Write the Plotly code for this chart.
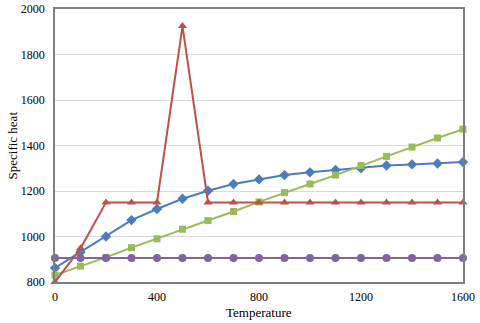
import plotly.graph_objects as go

temperature = [0, 100, 200, 300, 400, 500, 600, 700, 800, 900, 1000, 1100, 1200, 1300, 1400, 1500, 1600]
blue_vals = [862, 932, 1000, 1072, 1121, 1166, 1201, 1231, 1251, 1270, 1282, 1292, 1300, 1312, 1317, 1321, 1327]
green_vals = [831, 870, 908, 951, 990, 1032, 1070, 1110, 1152, 1193, 1231, 1270, 1312, 1352, 1393, 1433, 1472]
red_vals = [800, 948, 1150, 1150, 1150, 1925, 1150, 1150, 1150, 1150, 1150, 1150, 1150, 1150, 1150, 1150, 1150]
purple_vals = [906] * 17

series = [
    (blue_vals, '#4A7EBB', 'diamond', 8),
    (green_vals, '#9BBB59', 'square', 7),
    (red_vals, '#C0504D', 'triangle-up', 8),
    (purple_vals, '#8064A2', 'circle', 8),
]

fig = go.Figure()
for vals, col, sym, sz in series:
    fig.add_trace(go.Scatter(
        x=temperature, y=vals, mode='lines+markers',
        line=dict(color=col, width=2),
        marker=dict(symbol=sym, size=sz, color=col),
        cliponaxis=False, showlegend=False,
    ))

serif = "Liberation Serif"
tick_font = dict(family=serif, size=12, color='#000000')
fig.update_layout(
    width=480, height=323,
    margin=dict(l=55, r=17, t=9, b=41),
    plot_bgcolor='white', paper_bgcolor='white',
    font=dict(family=serif, size=12, color='#000000'),
    xaxis=dict(range=[0, 1600], tickvals=[0, 400, 800, 1200, 1600], showgrid=False,
               showline=True, linecolor='#7F7F7F', linewidth=1.5, mirror=True,
               ticks='', zeroline=False, automargin=False, tickfont=tick_font,
               ticklabelstandoff=3),
    yaxis=dict(range=[800, 2000], dtick=200, showgrid=True, gridcolor='#D9D9D9',
               showline=True, linecolor='#7F7F7F', linewidth=1.5, mirror=True,
               ticks='', zeroline=False, automargin=False, tickfont=tick_font,
               ticklabelstandoff=6),
    annotations=[
        dict(text='Temperature', xref='paper', yref='paper', x=0.5, y=0,
             yshift=-30, xanchor='center', yanchor='middle', showarrow=False,
             font=dict(family=serif, size=13)),
        dict(text='Specific heat', xref='paper', yref='paper', x=0, y=0.5,
             xshift=-43, xanchor='center', yanchor='middle', showarrow=False,
             textangle=-90, font=dict(family=serif, size=13)),
    ],
)

# drop the browser's default body margin so the figure sits at the page corner
fig.write_html("out.html", config={'displayModeBar': False},
               post_script="document.body.style.margin='0';")
